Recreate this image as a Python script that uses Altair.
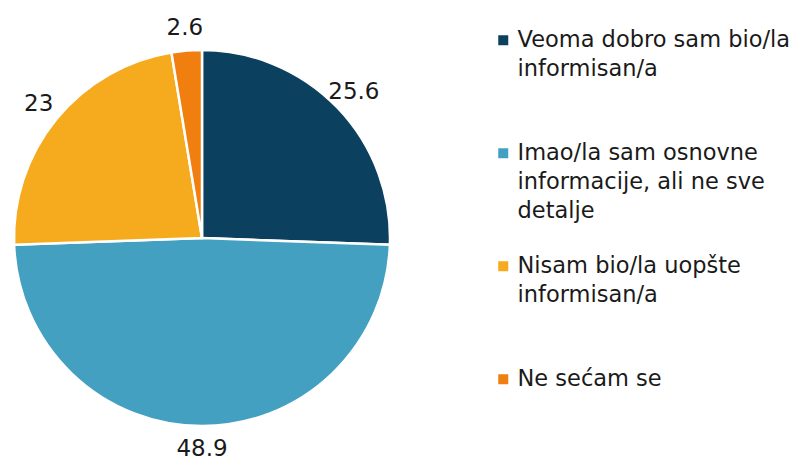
import altair as alt
import pandas as pd

categories = [
    "Veoma dobro sam bio/la informisan/a",
    "Imao/la sam osnovne informacije, ali ne sve detalje",
    "Nisam bio/la uopšte informisan/a",
    "Ne sećam se",
]
legend_lines = [
    "Veoma dobro sam bio/la|informisan/a",
    "Imao/la sam osnovne|informacije, ali ne sve|detalje",
    "Nisam bio/la uopšte|informisan/a",
    "Ne sećam se",
]
values = [25.6, 48.9, 23, 2.6]
colors = ["#0C405F", "#43A0C1", "#F6AA1D", "#F07F10"]

df = pd.DataFrame({
    "cat": categories,
    "value": values,
    "order": list(range(len(categories))),
})

label_map = {c: l for c, l in zip(categories, legend_lines)}
expr = "split(" + " ".join(
    f"datum.label == '{c}' ? '{l}' :" for c, l in label_map.items()
) + " datum.label, '|')"

base = alt.Chart(df).encode(
    theta=alt.Theta("value:Q", stack=True),
    order=alt.Order("order:Q"),
    x=alt.value(194),
    y=alt.value(230),
)

pie = base.mark_arc(outerRadius=188, stroke="white", strokeWidth=2.5).encode(
    color=alt.Color(
        "cat:N",
        scale=alt.Scale(domain=categories, range=colors),
        legend=alt.Legend(
            title=None,
            orient="none",
            legendX=484,
            legendY=21,
            symbolType="square",
            symbolSize=100,
            symbolStrokeWidth=0,
            labelFont="DejaVu Sans",
            labelFontSize=22.5,
            labelColor="#1a1a1a",
            labelLimit=400,
            labelExpr=expr,
            gridAlign="all",
            rowPadding=32,
            labelOffset=3,
        ),
    )
)

labels = base.mark_text(
    radius=211, font="DejaVu Sans", fontSize=23, color="#1a1a1a"
).encode(text=alt.Text("value:Q", format="~g"))

chart = (
    (pie + labels)
    .properties(width=787, height=452, padding=0, autosize=alt.AutoSizeParams(type="none"))
    .configure(
        style={"guide-label": {"lineHeight": 29}},
        view=alt.ViewConfig(stroke="transparent", strokeWidth=0),
    )
)

chart.save("out.html", embed_options={"renderer": "svg", "actions": False})
